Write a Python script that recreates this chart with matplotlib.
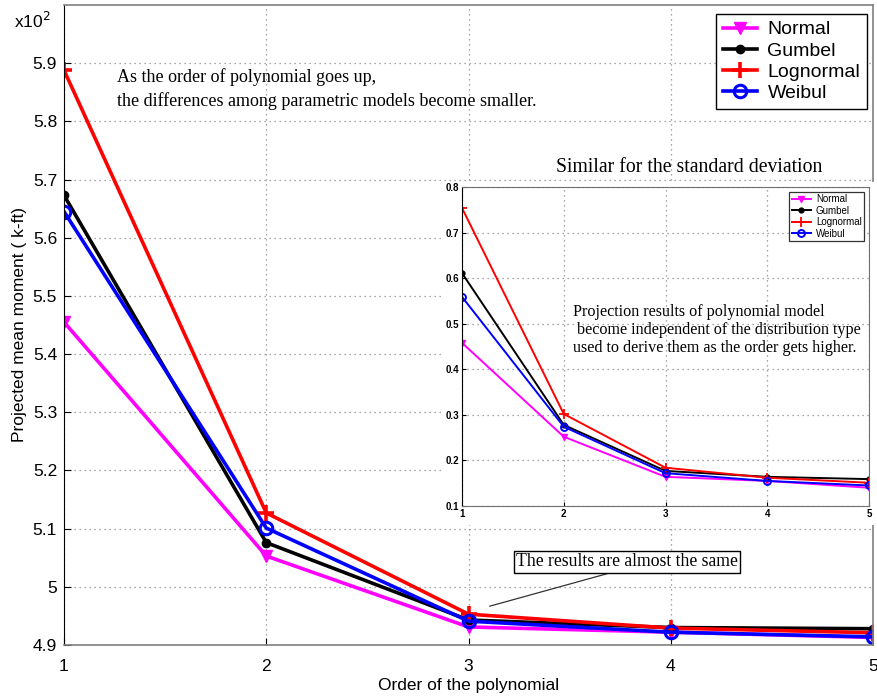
import matplotlib
matplotlib.use("Agg")
import matplotlib.pyplot as plt
from matplotlib.patches import Rectangle

# ---- data ----
orders = [1, 2, 3, 4, 5]
series_names = ["Normal", "Gumbel", "Lognormal", "Weibul"]
mean_normal = [5.455, 5.053, 4.931, 4.922, 4.913]
mean_gumbel = [5.673, 5.076, 4.943, 4.930, 4.928]
mean_lognormal = [5.888, 5.127, 4.953, 4.929, 4.921]
mean_weibull = [5.645, 5.101, 4.941, 4.922, 4.914]

std_normal = [0.458, 0.252, 0.164, 0.155, 0.140]
std_gumbel = [0.611, 0.278, 0.177, 0.164, 0.159]
std_lognormal = [0.754, 0.302, 0.184, 0.162, 0.151]
std_weibull = [0.559, 0.274, 0.172, 0.155, 0.145]

main_yticks = [4.9, 5.0, 5.1, 5.2, 5.3, 5.4, 5.5, 5.6, 5.7, 5.8, 5.9]
main_yticklabels = ["4.9", "5", "5.1", "5.2", "5.3", "5.4", "5.5", "5.6", "5.7", "5.8", "5.9"]
inset_yticks = [0.1, 0.2, 0.3, 0.4, 0.5, 0.6, 0.7, 0.8]

colors = ["#ff00ff", "#000000", "#ff0000", "#0000ff"]
markers = ["v", "o", "+", "o"]

W, H = 877, 698
fig = plt.figure(figsize=(W / 100, H / 100), dpi=100)

def fx(px):
    return px / W

def fy(py):
    return 1 - py / H

sans = "Liberation Sans"
serif = "Liberation Serif"
grid_kw = dict(color="#8a8a8a", linestyle=(0, (1, 3)), linewidth=0.9)

# ---- main axes ----
ax = fig.add_axes([fx(64), fy(645), fx(873) - fx(64), fy(5) - fy(645)])
ax.set_zorder(0)
mean_data = [mean_normal, mean_gumbel, mean_lognormal, mean_weibull]
for name, vals, c, m in zip(series_names, mean_data, colors, markers):
    kw = dict(color=c, linewidth=2.6, marker=m, label=name)
    if name == "Normal":
        kw.update(markersize=9, markerfacecolor=c, markeredgecolor=c)
    elif name == "Gumbel":
        kw.update(markersize=6, markerfacecolor=c)
    elif name == "Lognormal":
        kw.update(markersize=12, markeredgewidth=2.6)
    else:
        kw.update(markersize=9, markerfacecolor="none", markeredgewidth=2.2)
    ax.plot(orders, vals, **kw)

ax.set_xlim(1, 5)
ax.set_ylim(4.9, 6.0)
ax.set_xticks(orders)
ax.set_yticks(main_yticks)
ax.set_yticklabels(main_yticklabels)
ax.grid(True, **grid_kw)
ax.tick_params(direction="in", length=5, labelsize=12.5, pad=5)
ax.tick_params(axis="x", pad=10)
for lab in ax.get_xticklabels() + ax.get_yticklabels():
    lab.set_fontfamily(sans)
ax.spines["left"].set_color("black")
for s in ["bottom", "top", "right"]:
    ax.spines[s].set_color("#808080")
    ax.spines[s].set_linewidth(1.2)

ax.set_xlabel("Order of the polynomial", fontsize=12.5, family=sans, labelpad=3)
ax.set_ylabel("Projected mean moment ( k-ft)", fontsize=12.5, family=sans, labelpad=4)

fig.text(fx(14), fy(21), r"x10$^{2}$", fontsize=12.5, family=sans, va="center", ha="left")

leg = ax.legend(loc="upper right", bbox_to_anchor=(fx(867), fy(14)),
                bbox_transform=fig.transFigure, prop={"family": sans, "size": 14},
                fancybox=False, edgecolor="black", framealpha=1,
                handlelength=1.75, handletextpad=0.55, labelspacing=0.18,
                borderpad=0.35, borderaxespad=0)
leg.get_frame().set_linewidth(1.0)

fig.text(fx(117), fy(77), "As the order of polynomial goes up,", fontsize=13,
         family=serif, va="center", ha="left")
fig.text(fx(117), fy(101), "the differences among parametric models become smaller.",
         fontsize=13, family=serif, va="center", ha="left")

fig.text(fx(516), fy(562), "The results are almost the same", fontsize=12.7,
         family=serif, va="center", ha="left",
         bbox=dict(boxstyle="square,pad=0.12", facecolor="white", edgecolor="black", linewidth=1.0))
ax.annotate("", xy=(1 + (487 - 64) / 202.25, 4.9 + (645 - 607) / 581),
            xytext=(1 + (610 - 64) / 202.25, 4.9 + (645 - 573) / 581),
            arrowprops=dict(arrowstyle="-", color="#333333", lw=0.9))

# ---- inset background ----
bg = Rectangle((fx(443), fy(525)), fx(877) - fx(443), fy(182) - fy(525),
               transform=fig.transFigure, facecolor="white", edgecolor="none", zorder=0.5)
fig.add_artist(bg)

fig.text(fx(689), fy(167), "Similar for the standard deviation", fontsize=14.2,
         family=serif, va="center", ha="center", zorder=2)

# ---- inset axes ----
ax2 = fig.add_axes([fx(462), fy(506), fx(869) - fx(462), fy(187) - fy(506)])
ax2.set_zorder(1)
std_data = [std_normal, std_gumbel, std_lognormal, std_weibull]
for name, vals, c, m in zip(series_names, std_data, colors, markers):
    kw = dict(color=c, linewidth=1.4, marker=m, label=name)
    if name == "Normal":
        kw.update(markersize=5, markerfacecolor=c, markeredgecolor=c)
    elif name == "Gumbel":
        kw.update(markersize=3.5, markerfacecolor=c)
    elif name == "Lognormal":
        kw.update(markersize=7, markeredgewidth=1.3)
    else:
        kw.update(markersize=5, markerfacecolor="none", markeredgewidth=1.4)
    ax2.plot(orders, vals, **kw)
ax2.set_xlim(1, 5)
ax2.set_ylim(0.1, 0.8)
ax2.set_xticks(orders)
ax2.set_yticks(inset_yticks)
ax2.grid(True, **grid_kw)
ax2.tick_params(direction="in", length=3, labelsize=7, pad=2)
for lab in ax2.get_xticklabels() + ax2.get_yticklabels():
    lab.set_fontfamily(sans)
    lab.set_fontweight("bold")
ax2.spines["left"].set_color("black")
for s in ["bottom", "top", "right"]:
    ax2.spines[s].set_color("#707070")

leg2 = ax2.legend(loc="upper right", bbox_to_anchor=(fx(864), fy(192)),
                  bbox_transform=fig.transFigure, prop={"family": sans, "size": 7},
                  fancybox=False, edgecolor="#333333", framealpha=1,
                  handlelength=2.0, handletextpad=0.5, labelspacing=0.15,
                  borderpad=0.25, borderaxespad=0)
leg2.get_frame().set_linewidth(0.9)

inset_lines = [
    (573, 312, "Projection results of polynomial model"),
    (573, 330, " become independent of the distribution type"),
    (573, 348, "used to derive them as the order gets higher."),
]
for px, py, t in inset_lines:
    ax2.text(fx(px), fy(py), t, transform=fig.transFigure, fontsize=11.6,
             family=serif, va="center", ha="left")

fig.savefig("out.png", dpi=100)
